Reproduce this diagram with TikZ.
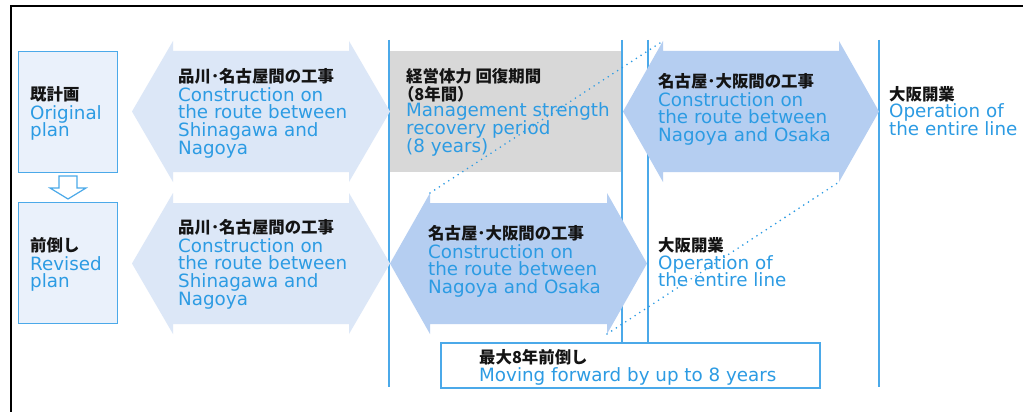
\documentclass[tikz,border=0pt]{standalone}
\usepackage{fontspec}
\setmainfont{DejaVu Sans}
\newfontfamily\jpfont{Noto Sans CJK JP}
\definecolor{tblue}{HTML}{2C9BE3}
\definecolor{lblue}{HTML}{4BA9E9}
\definecolor{boxfill}{HTML}{EAF1FB}
\definecolor{hexlight}{HTML}{DCE7F7}
\definecolor{hexdark}{HTML}{B5CEF1}
\definecolor{grayfill}{HTML}{D8D8D8}
\newcommand\jp[1]{{\jpfont\bfseries\fontsize{16.4}{17.8}\selectfont\color{black!92}\rule{0pt}{16pt}#1}}
\newcommand\enfont{\fontsize{18.3}{17.8}\selectfont\lineskiplimit=-100pt\relax}
% #1 style, #2 name, #3 xL, #4 xBL, #5 xBR, #6 xR, #7 yTop
\newcommand\dblarrow[7]{%
  \fill[#1] (#3,#7+70.5) -- (#4,#7) -- (#4,#7+10) -- (#5,#7+10) -- (#5,#7)
    -- (#6,#7+70.5) -- (#5,#7+141) -- (#5,#7+131) -- (#4,#7+131) -- (#4,#7+141) -- cycle;
  \coordinate (#2-tl) at (#4,#7);
  \coordinate (#2-br) at (#5,#7+141);
}
\begin{document}
\begin{tikzpicture}[x=1pt,y=-1pt,
  txt/.style={inner sep=0pt, anchor=north west, align=left, text=tblue,
    font=\enfont},
  planbox/.style={draw=lblue, fill=boxfill, line width=1.3pt, inner sep=0pt,
    minimum width=99pt, minimum height=121pt, anchor=north west},
  vline/.style={draw=lblue, line width=1.3pt},
  dots/.style={draw=tblue, line width=1.8pt, line cap=round, dash pattern=on 0pt off 5.6pt}]
\useasboundingbox (0,0) rectangle (1023,412);
\fill[white] (0,0) rectangle (1023,412);
% frame
\draw[black, line width=1.2pt] (1023,6) -- (11,6) -- (11,412);
% vertical lines
\draw[vline] (389,40) -- (389,387);
\draw[vline] (622,40) -- (622,342);
\draw[vline] (648,40) -- (648,342);
\draw[vline] (879,40) -- (879,387);
% gray box
\fill[grayfill] (390,51) rectangle (621,172);
% arrows
\dblarrow{hexlight}{shA}{132}{173}{349}{390}{41}
\dblarrow{hexlight}{shB}{132}{173}{349}{390}{193}
\dblarrow{hexdark}{ngA}{623}{663}{839}{879}{41}
\dblarrow{hexdark}{ngB}{390}{430}{607}{647}{193}
% plan boxes
\node[planbox] (orig) at (18,51) {};
\node[planbox] (rev) at (18,202) {};
\draw[lblue, fill=white, line width=1.2pt] (59,176) -- (77,176) -- (77,188) -- (86,188)
  -- (68,199) -- (50,188) -- (59,188) -- cycle;
% bottom box
\node[draw=lblue, fill=white, line width=1.5pt, inner sep=0pt, minimum width=379pt,
  minimum height=45pt, anchor=north west] (fwd) at (440,342) {};
% texts
\node[txt] (torig) at (30,84) {\jp{既計画}\\[1pt]Original\\plan};
\node[txt] (trev) at (30,235) {\jp{前倒し}\\[1pt]Revised\\plan};
\node[txt] (tshA) at (178,66) {\jp{品川･名古屋間の工事}\\[1pt]Construction on\\the route between\\Shinagawa and\\Nagoya};
\node[txt] (tshB) at (178,217) {\jp{品川･名古屋間の工事}\\[1pt]Construction on\\the route between\\Shinagawa and\\Nagoya};
\node[txt] (tgray) at (406,66) {\jp{経営体力 回復期間}\\[0pt]\jp{\kern-0.5em（8年間）}\\[-1pt]Management strength\\recovery period\\(8 years)};
\node[txt] (tngA) at (658,71) {\jp{名古屋･大阪間の工事}\\[1pt]Construction on\\the route between\\Nagoya and Osaka};
\node[txt] (tngB) at (428,223) {\jp{名古屋･大阪間の工事}\\[1pt]Construction on\\the route between\\Nagoya and Osaka};
\node[txt] (topA) at (889,84) {\jp{大阪開業}\\[0pt]Operation of\\the entire line};
\node[txt] (topB) at (658,235) {\jp{大阪開業}\\[0pt]Operation of\\the entire line};
\node[txt] (tfwd) at (479,347) {\jp{最大8年前倒し}\\[0pt]Moving forward by up to 8 years};
% dotted connectors
\draw[dots] (ngB-tl) -- (ngA-tl);
\draw[dots] (ngB-br) -- (ngA-br);
\end{tikzpicture}
\end{document}
